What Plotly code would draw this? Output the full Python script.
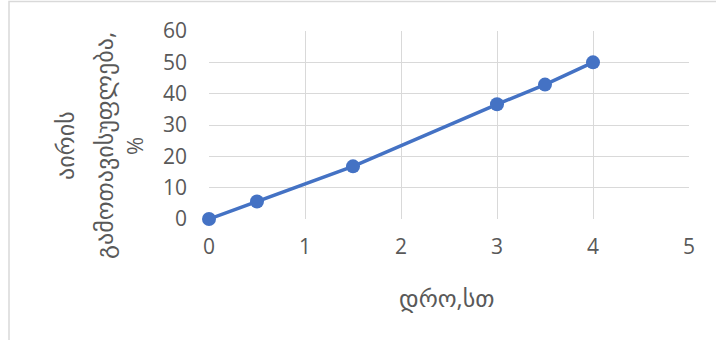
import plotly.graph_objects as go

# Gas release over time
time_h = [0, 0.5, 1.5, 3, 3.5, 4]
release_pct = [0, 5.6, 16.8, 36.6, 42.9, 50]

x_ticks = [0, 1, 2, 3, 4, 5]
y_ticks = [0, 10, 20, 30, 40, 50, 60]

x_title = "დრო,სთ"
y_title_lines = ["აირის", "გამოთავისუფლება,", "%"]

W, H = 716, 340
L, R, T, B = 209, 27, 31, 121
plot_w = W - L - R
plot_h = H - T - B

def px_x(px):
    return (px - L) / plot_w

def px_y(py):
    return (H - B - py) / plot_h

font_family = "Open Sans, DejaVu Sans, sans-serif"
text_col = "#595959"
grid_col = "#d9d9d9"
tick_font = dict(family=font_family, size=21, color=text_col)

fig = go.Figure()
fig.add_trace(go.Scatter(
    x=time_h, y=release_pct,
    mode="lines+markers",
    line=dict(color="#4472C4", width=3.5),
    marker=dict(color="#4472C4", size=14),
    cliponaxis=False,
    showlegend=False,
))

fig.update_layout(
    width=W, height=H,
    margin=dict(l=L, r=R, t=T, b=B, pad=0),
    paper_bgcolor="white", plot_bgcolor="white",
    font=dict(family=font_family, size=18, color=text_col),
    xaxis=dict(
        range=[0, 5], tickvals=x_ticks, showgrid=True, gridcolor=grid_col,
        gridwidth=1.3, zeroline=False, showline=False, ticks="",
        ticklabelstandoff=13, tickfont=tick_font, fixedrange=True,
    ),
    yaxis=dict(
        range=[0, 60], tickvals=y_ticks, showgrid=True, gridcolor=grid_col,
        gridwidth=1.3, zeroline=False, showline=False, ticks="",
        ticklabelstandoff=21, tickfont=tick_font, fixedrange=True,
    ),
    shapes=[
        dict(type="rect", xref="paper", yref="paper",
             x0=px_x(9), x1=px_x(730), y0=px_y(360), y1=px_y(1.5),
             line=dict(color=grid_col, width=1.5), layer="below"),
    ],
)

annotations = [
    dict(text=x_title, xref="paper", yref="paper", x=px_x(447), y=px_y(297),
         showarrow=False, xanchor="center", yanchor="middle",
         font=dict(size=24, color=text_col)),
]
for line_txt, cx in zip(y_title_lines, [64, 103, 134]):
    annotations.append(dict(
        text=line_txt, xref="paper", yref="paper", x=px_x(cx), y=px_y(146),
        showarrow=False, textangle=-90, xanchor="center", yanchor="middle",
        font=dict(size=24 if line_txt != "%" else 22, color=text_col)))
fig.update_layout(annotations=annotations)

fig.write_html("out.html")
